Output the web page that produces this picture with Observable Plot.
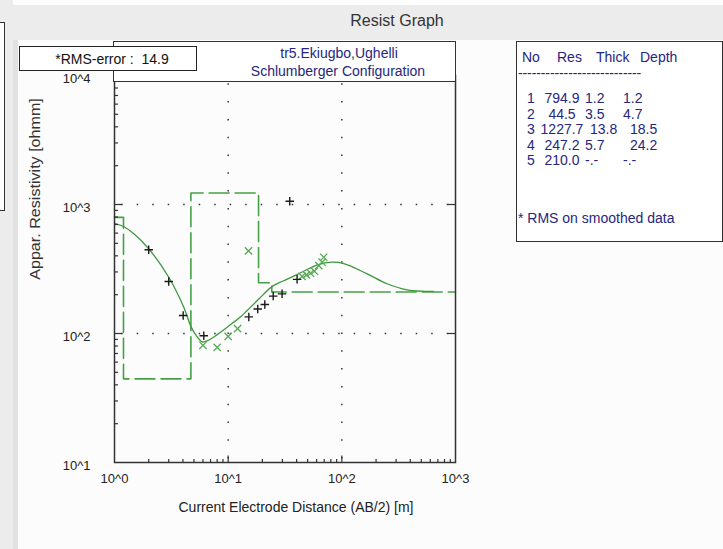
<!DOCTYPE html>
<html><head><meta charset="utf-8">
<script src="https://cdn.jsdelivr.net/npm/d3@7"></script>
<script src="https://cdn.jsdelivr.net/npm/@observablehq/plot@0.6"></script>
<style>
html,body{margin:0;padding:0;}
body{width:723px;height:549px;overflow:hidden;background:#ececec;font-family:"Liberation Sans",Arial,sans-serif;}
#wrap{position:relative;width:723px;height:549px;overflow:hidden;}
.abs{position:absolute;box-sizing:border-box;}
.txt{position:absolute;white-space:pre;line-height:1;}
.tb{color:#26267e;font-size:14px;}
#plot{position:absolute;left:0;top:0;}
</style></head><body>
<div id="wrap">
  <div class="abs" style="left:13px;top:0;width:710px;height:5px;background:#ffffff"></div>
  <div class="abs" style="left:18px;top:40px;width:705px;height:509px;background:#fcfcfc"></div>
  <div class="abs" style="left:13px;top:40px;width:5px;height:509px;background:#e1e1e1"></div>
  <div class="abs" style="left:-2px;top:22px;width:7px;height:189px;border:1px solid #333;background:#fff"></div>
  <div class="txt" id="title" style="left:397px;top:21px;transform:translate(-50%,-50%);font-size:16px;color:#333"></div>
  <div id="plot"></div>
  <div class="abs" style="left:113px;top:41px;width:343px;height:41px;border:1.5px solid #333;background:#fff"></div>
  <div class="txt" id="site" style="left:339px;top:53px;transform:translate(-50%,-50%);font-size:14px;color:#26267e"></div>
  <div class="txt" id="config" style="left:338px;top:71px;transform:translate(-50%,-50%);font-size:14px;color:#26267e"></div>
  <div class="abs" style="left:19px;top:46px;width:178px;height:25px;border:1.5px solid #222;background:#fff"></div>
  <div class="txt" id="rms" style="left:112px;top:59px;transform:translate(-50%,-50%);font-size:14px;color:#111"></div>
  <div class="abs" id="tablebox" style="left:516px;top:41px;width:207px;height:201px;border:1.5px solid #333;background:#fff"></div>
  <div class="txt" id="ytitle" style="left:35px;top:189px;transform:translate(-50%,-50%) rotate(-90deg) scaleX(1.15);font-size:14px;color:#333"></div>
  <div class="txt" id="xtitle" style="left:296px;top:507px;transform:translate(-50%,-50%);font-size:14px;color:#222"></div>
</div>
<script>
// ---------- data ----------
const chartTitle = "Resist Graph";
const siteName = "tr5.Ekiugbo,Ughelli";
const configName = "Schlumberger Configuration";
const rmsError = 14.9;
const xTitle = "Current Electrode Distance (AB/2) [m]";
const yTitle = "Appar. Resistivity [ohmm]";

// layered model (table)
const layerNo = [1, 2, 3, 4, 5];
const layerRes = [794.9, 44.5, 1227.7, 247.2, 210.0];
const layerThick = [1.2, 3.5, 13.8, 5.7, null];
const layerDepth = [1.2, 4.7, 18.5, 24.2, null];

// field data (black +)
const fieldAB2 = [2.0, 3.0, 4.02, 6.1, 15.2, 18.2, 21, 24.9, 29.8, 34.8, 40.4];
const fieldRho = [446, 253, 138, 96, 134.5, 155, 168, 195, 203, 1061, 263];

// smoothed data (green x)
const smoothAB2 = [6.0, 8.0, 10, 12.1, 15.1, 44.7, 48.8, 53, 57.4, 62.7, 67.1, 69.3];
const smoothRho = [81, 78, 95, 109, 437, 277, 285, 293, 304, 336, 357, 390];

// model response curve (green solid)
const modelAB2 = [1.0, 1.2, 1.48, 2.0, 3.0, 4.07, 4.73, 5.3, 5.9, 6.6, 8.0, 9.8, 12.8, 14.7, 18.5, 24.4, 30, 39, 61, 82, 104, 167, 250, 375, 643];
const modelRho = [715, 675, 593, 454, 273, 160, 112, 95, 86, 88, 98, 112, 134, 151, 184, 232, 254, 282, 340, 357, 348, 290, 243, 218, 212];

// axes
const xDomain = [1, 1000];
const yDomain = [10, 10000];
const xTickValues = [1, 10, 100, 1000];
const xTickLabels = ["10^0", "10^1", "10^2", "10^3"];
const yTickValues = [10, 100, 1000, 10000];
const yTickLabels = ["10^1", "10^2", "10^3", "10^4"];
const minorMultipliers = [2, 3, 4, 5, 6, 7, 8, 9];
const xDecades = [1, 10, 100];
const yDecades = [10, 100, 1000];
const gridX = [10, 100];
const gridY = [100, 1000];

// ---------- derived ----------
const field = fieldAB2.map((x, i) => ({x, y: fieldRho[i]}));
const smooth = smoothAB2.map((x, i) => ({x, y: smoothRho[i]}));
const model = modelAB2.map((x, i) => ({x, y: modelRho[i]}));
const steps = [];
let layerTop = xDomain[0];
layerRes.forEach((r, i) => {
  const bottom = layerDepth[i] ?? xDomain[1];
  steps.push({x: layerTop, y: r}, {x: bottom, y: r});
  layerTop = bottom;
});
const xMinor = xDecades.flatMap(d => minorMultipliers.map(m => m * d));
const yMinor = yDecades.flatMap(d => minorMultipliers.map(m => m * d));

const tickUp = len => ({draw(c) { c.moveTo(0, 0); c.lineTo(0, -len); }});
const tickRight = len => ({draw(c) { c.moveTo(0, 0); c.lineTo(len, 0); }});
const tickLeft = len => ({draw(c) { c.moveTo(0, 0); c.lineTo(-len, 0); }});

const green = "#45a045";
const axisColor = "#333";

const chart = Plot.plot({
  width: 723, height: 549,
  marginLeft: 114, marginRight: 268, marginTop: 75, marginBottom: 87,
  x: {type: "log", domain: xDomain, axis: null},
  y: {type: "log", domain: yDomain, axis: null},
  style: {background: "transparent", fontFamily: "'Liberation Sans', Arial, sans-serif", fontSize: "13px", color: "#222", overflow: "visible"},
  marks: [
    Plot.ruleX(gridX, {x: d => d, stroke: "#333", strokeWidth: 1.5, strokeDasharray: "1.5,16.3", strokeDashoffset: 9.5}),
    Plot.ruleY(gridY, {y: d => d, stroke: "#333", strokeWidth: 1.5, strokeDasharray: "1.5,14", strokeDashoffset: 8.3}),
    Plot.line(steps, {x: "x", y: "y", stroke: green, strokeWidth: 1.6, strokeDasharray: "20,6", curve: "linear"}),
    Plot.line(model, {x: "x", y: "y", stroke: "#3d983d", strokeWidth: 1.3, curve: "catmull-rom"}),
    Plot.dot(smooth, {x: "x", y: "y", symbol: "times", r: 3.4, stroke: "#55aa55", strokeWidth: 1.3, fill: "none"}),
    Plot.dot(field, {x: "x", y: "y", symbol: "plus", r: 2.85, stroke: "#1a1a1a", strokeWidth: 1.4, fill: "none"}),
    Plot.frame({stroke: axisColor, strokeWidth: 1.5}),
    Plot.dotX(xMinor, {x: d => d, frameAnchor: "bottom", symbol: tickUp(3.5), stroke: axisColor, fill: "none", strokeWidth: 1.2}),
    Plot.dotX(gridX, {x: d => d, frameAnchor: "bottom", symbol: tickUp(7), stroke: axisColor, fill: "none", strokeWidth: 1.2}),
    Plot.dotY(yMinor, {y: d => d, frameAnchor: "left", symbol: tickRight(3.5), stroke: axisColor, fill: "none", strokeWidth: 1.2}),
    Plot.dotY(gridY, {y: d => d, frameAnchor: "left", symbol: tickRight(7.5), stroke: axisColor, fill: "none", strokeWidth: 1.2}),
    Plot.dotY(gridY, {y: d => d, frameAnchor: "right", symbol: tickLeft(7.5), stroke: axisColor, fill: "none", strokeWidth: 1.2}),
    Plot.text(xTickValues, {x: d => d, frameAnchor: "bottom", dy: 20, text: (d, i) => xTickLabels[i], fill: "#222", fontSize: 13}),
    Plot.text(yTickValues, {y: d => d, frameAnchor: "left", dx: -24, dy: 3, textAnchor: "end", text: (d, i) => yTickLabels[i], fill: "#222", fontSize: 13})
  ]
});
document.getElementById("plot").appendChild(chart);

// ---------- texts ----------
document.getElementById("title").textContent = chartTitle;
document.getElementById("site").textContent = siteName;
document.getElementById("config").textContent = configName;
document.getElementById("rms").textContent = "*RMS-error :  " + rmsError.toFixed(1);
document.getElementById("xtitle").textContent = xTitle;
document.getElementById("ytitle").textContent = yTitle;

// table
const wrap = document.getElementById("wrap");
function addText(str, left, cy, anchor, extra) {
  const d = document.createElement("div");
  d.className = "txt tb";
  d.textContent = str;
  d.style.left = left + "px";
  d.style.top = cy + "px";
  d.style.transform = anchor === "middle" ? "translate(-50%,-50%)" : "translate(0,-50%)";
  if (extra) Object.assign(d.style, extra);
  wrap.appendChild(d);
}
const headers = ["No", "Res", "Thick", "Depth"];
const headerX = [522, 557, 596, 640];
headers.forEach((h, i) => addText(h, headerX[i], 57));
addText("-".repeat(27), 518, 73, null, {letterSpacing: "-0.1px"});
const rowY = [98, 113.5, 129, 144.5, 160];
const fmt = v => v == null ? "-.-" : v.toFixed(1);
layerNo.forEach((n, i) => {
  addText(String(n), 527, rowY[i]);
  addText(fmt(layerRes[i]), 562, rowY[i], "middle");
  addText(fmt(layerThick[i]), layerThick[i] != null && layerThick[i] >= 10 ? 590 : 585, rowY[i]);
  addText(fmt(layerDepth[i]), layerDepth[i] != null && layerDepth[i] >= 10 ? 630 : 623, rowY[i]);
});
addText("* RMS on smoothed data", 518, 218);
</script>
</body></html>
